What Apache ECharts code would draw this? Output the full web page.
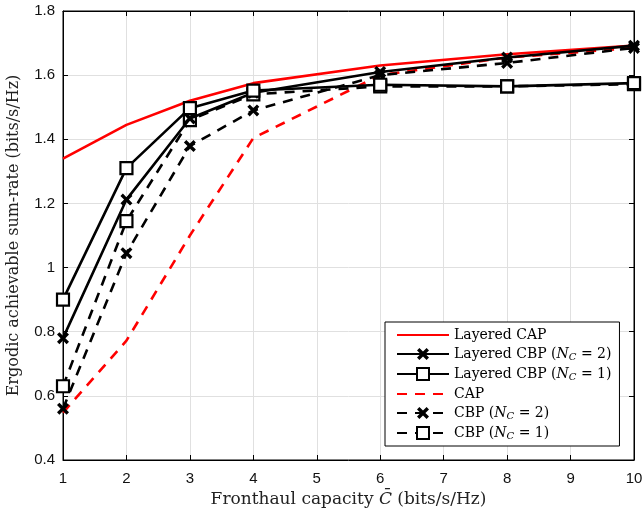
<!DOCTYPE html>
<html>
<head>
<meta charset="utf-8">
<script src="https://cdn.jsdelivr.net/npm/echarts@6/dist/echarts.min.js"></script>
<style>
  html, body { margin: 0; padding: 0; background: #fff; }
  #chart { width: 644px; height: 514px; }
</style>
</head>
<body>
<div id="chart"></div>
<script>
// fronthaul capacity points (x)
const capacity = [1, 2, 3, 4, 6, 8, 10];

// sum-rate values
const layeredCap = [1.34, 1.445, 1.52, 1.575, 1.63, 1.665, 1.692];
const layeredCbp2 = [0.78, 1.212, 1.465, 1.545, 1.61, 1.655, 1.692];
const layeredCbp1 = [0.90, 1.31, 1.497, 1.552, 1.57, 1.565, 1.575];
const cap = [0.548, 0.772, 1.10, 1.404, 1.60, 1.655, 1.685];
const cbp2 = [0.56, 1.045, 1.379, 1.49, 1.60, 1.638, 1.685];
const cbp1 = [0.63, 1.145, 1.46, 1.54, 1.565, 1.565, 1.572];

const yTicks = { min: 0.4, max: 1.8, step: 0.2 };

const crossPath = 'path://M0,2L2,0L5,3L8,0L10,2L7,5L10,8L8,10L5,7L2,10L0,8L3,5Z';
const serif = 'DejaVu Serif';
const sans = 'Liberation Sans';

function pts(vals) {
  return capacity.map((c, i) => [c, vals[i]]);
}

const chart = echarts.init(document.getElementById('chart'));

function lineSeries(name, vals, opts) {
  return {
    name: name,
    type: 'line',
    data: pts(vals),
    symbol: opts.symbol || 'none',
    symbolSize: opts.size || 12,
    showSymbol: !!opts.symbol,
    lineStyle: { color: opts.color, width: 2.6, type: opts.dash ? [10, 8] : 'solid' },
    itemStyle: opts.symbol === 'rect'
      ? { color: '#fff', borderColor: '#000', borderWidth: 2.2 }
      : { color: opts.color },
    emphasis: { disabled: true },
    animation: false,
    z: opts.z || 2
  };
}

const legendLabels = {
  'Layered CAP': '{t|Layered CAP}',
  'Layered CBP (NC = 2)': '{t|Layered CBP (}{i|N}{s|C}{t| = 2)}',
  'Layered CBP (NC = 1)': '{t|Layered CBP (}{i|N}{s|C}{t| = 1)}',
  'CAP': '{t|CAP}',
  'CBP (NC = 2)': '{t|CBP (}{i|N}{s|C}{t| = 2)}',
  'CBP (NC = 1)': '{t|CBP (}{i|N}{s|C}{t| = 1)}'
};

const noMarker = { color: 'transparent', borderWidth: 0, opacity: 0 };

chart.setOption({
  backgroundColor: '#fff',
  animation: false,
  grid: {
    left: 63, right: 10, top: 11, bottom: 54,
    outerBoundsMode: 'none',
    show: true, borderColor: '#000', borderWidth: 1
  },
  legend: {
    orient: 'vertical',
    left: 385,
    top: 322,
    padding: [6, 8, 5, 11],
    itemGap: 5,
    itemWidth: 52,
    itemHeight: 15,
    borderColor: '#000',
    borderWidth: 1,
    backgroundColor: '#fff',
    data: [
      { name: 'Layered CAP', itemStyle: noMarker },
      { name: 'Layered CBP (NC = 2)' },
      { name: 'Layered CBP (NC = 1)' },
      { name: 'CAP', itemStyle: noMarker },
      { name: 'CBP (NC = 2)' },
      { name: 'CBP (NC = 1)' }
    ],
    formatter: name => legendLabels[name],
    textStyle: {
      rich: {
        t: { fontFamily: serif, fontSize: 14, color: '#000', lineHeight: 15 },
        i: { fontFamily: serif, fontSize: 14, fontStyle: 'italic', color: '#000', lineHeight: 15 },
        s: { fontFamily: serif, fontSize: 10, fontStyle: 'italic', color: '#000', padding: [6, 0, 0, 0] }
      }
    }
  },
  xAxis: [{
    type: 'value',
    min: 1,
    max: 10,
    interval: 1,
    name: '{t|Fronthaul capacity }{i|C\u0304}{t| (bits/s/Hz)}',
    nameLocation: 'middle',
    nameGap: 30,
    nameTextStyle: {
      rich: {
        t: { fontFamily: serif, fontSize: 17, color: '#222' },
        i: { fontFamily: serif, fontSize: 17, fontStyle: 'italic', color: '#222' }
      }
    },
    axisLine: { show: true, lineStyle: { color: '#000' } },
    axisTick: { inside: true, length: 5, lineStyle: { color: '#000' } },
    axisLabel: { fontFamily: sans, fontSize: 15, color: '#111', margin: 11 },
    splitLine: { show: true, lineStyle: { color: '#e0e0e0' } }
  }, {
    type: 'value',
    position: 'top',
    min: 1,
    max: 10,
    interval: 1,
    axisLine: { show: true, lineStyle: { color: '#000' } },
    axisTick: { inside: true, length: 5, lineStyle: { color: '#000' } },
    axisLabel: { show: false },
    splitLine: { show: false }
  }],
  yAxis: [{
    type: 'value',
    min: yTicks.min,
    max: yTicks.max,
    interval: yTicks.step,
    name: 'Ergodic achievable sum-rate (bits/s/Hz)',
    nameLocation: 'middle',
    nameGap: 41,
    nameTextStyle: { fontFamily: serif, fontSize: 16, color: '#222' },
    axisLine: { show: true, lineStyle: { color: '#000' } },
    axisTick: { inside: true, length: 5, lineStyle: { color: '#000' } },
    axisLabel: { fontFamily: sans, fontSize: 15, color: '#111', margin: 8 },
    splitLine: { show: true, lineStyle: { color: '#e0e0e0' } }
  }, {
    type: 'value',
    position: 'right',
    min: yTicks.min,
    max: yTicks.max,
    interval: yTicks.step,
    axisLine: { show: true, lineStyle: { color: '#000' } },
    axisTick: { inside: true, length: 5, lineStyle: { color: '#000' } },
    axisLabel: { show: false },
    splitLine: { show: false }
  }],
  series: [
    lineSeries('Layered CAP', layeredCap, { color: '#ff0000', z: 3 }),
    lineSeries('Layered CBP (NC = 2)', layeredCbp2, { color: '#000', symbol: crossPath, size: 12, z: 4 }),
    lineSeries('Layered CBP (NC = 1)', layeredCbp1, { color: '#000', symbol: 'rect', size: 12, z: 4 }),
    lineSeries('CAP', cap, { color: '#ff0000', dash: true, z: 2 }),
    lineSeries('CBP (NC = 2)', cbp2, { color: '#000', dash: true, symbol: crossPath, size: 12, z: 3 }),
    lineSeries('CBP (NC = 1)', cbp1, { color: '#000', dash: true, symbol: 'rect', size: 12, z: 3 })
  ]
});
</script>
</body>
</html>
